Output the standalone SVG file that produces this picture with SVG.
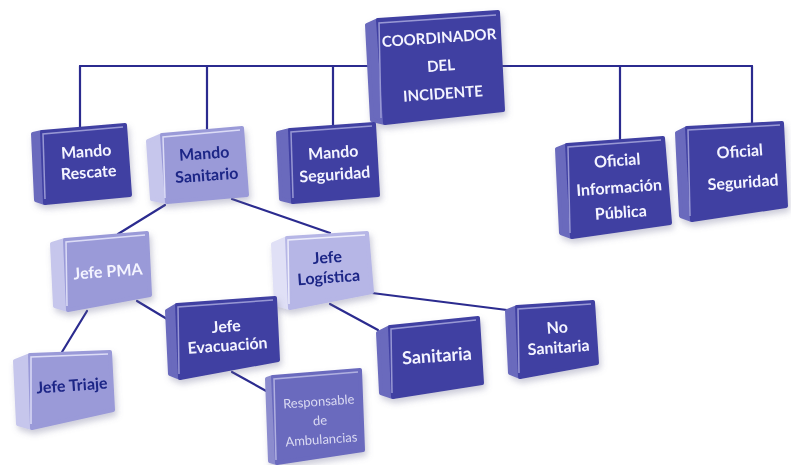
<svg xmlns="http://www.w3.org/2000/svg" width="791" height="465" viewBox="0 0 791 465">
  <defs>
    <filter id="shadow" x="-20%" y="-20%" width="140%" height="150%">
      <feDropShadow dx="2" dy="4" stdDeviation="3" flood-color="#6a6a90" flood-opacity="0.35"/>
    </filter>
  </defs>
  <style>
    .bg { fill: #ffffff; }
    .link { stroke: #2b2b8f; stroke-width: 2.2; fill: none; stroke-linecap: round; }
    .face { stroke-linejoin: round; stroke-width: 4; }
    .dark .front { fill: #4040a2; stroke: #4040a2; }
    .dark .side { fill: #6a6abd; stroke: #6a6abd; }
    .dark .edge { stroke: #9898d4; }
    .light .front { fill: #9a9ad8; stroke: #9a9ad8; }
    .light .side { fill: #c6c6ec; stroke: #c6c6ec; }
    .light .edge { stroke: #dcdcf6; }
    .pale .front { fill: #b6b6e6; stroke: #b6b6e6; }
    .pale .side { fill: #e0e0f6; stroke: #e0e0f6; }
    .pale .edge { stroke: #ececfa; }
    .mid .front { fill: #6a6abe; stroke: #6a6abe; }
    .mid .side { fill: #8c8cce; stroke: #8c8cce; }
    .mid .edge { stroke: #b0b0e0; }
    .edge { stroke-width: 1.5; fill: none; }
    text { font-family: Lato, "Open Sans", "Liberation Sans", sans-serif; text-anchor: middle; }
    .wt { fill: #f4f4ff; font-weight: bold; font-size: 16px; }
    .dt { fill: #1c2586; font-weight: bold; font-size: 16px; }
    .big { font-size: 18px; }
    .rt { fill: #dadaf2; font-size: 13px; }
    .ct { fill: #f4f4ff; font-weight: bold; font-size: 15px; }
  </style>
  <rect class="bg" x="0" y="0" width="791" height="465"/>

  <!-- connectors -->
  <g id="connectors">
    <line class="link" x1="80" y1="66" x2="752" y2="66"/>
    <line class="link" x1="80" y1="66" x2="80" y2="130"/>
    <line class="link" x1="207" y1="66" x2="207" y2="132"/>
    <line class="link" x1="333" y1="66" x2="333" y2="129"/>
    <line class="link" x1="620" y1="66" x2="620" y2="142"/>
    <line class="link" x1="752" y1="66" x2="752" y2="126"/>
    <line class="link" x1="165" y1="205" x2="118" y2="234"/>
    <line class="link" x1="232" y1="199" x2="330" y2="233"/>
    <line class="link" x1="87" y1="311" x2="62" y2="352"/>
    <line class="link" x1="137" y1="301" x2="167" y2="319"/>
    <line class="link" x1="330" y1="304" x2="378" y2="330"/>
    <line class="link" x1="372" y1="293" x2="507" y2="310"/>
    <line class="link" x1="232" y1="372" x2="268" y2="392"/>
  </g>

  <!-- COORDINADOR DEL INCIDENTE -->
  <g id="coordinador" class="dark" filter="url(#shadow)">
    <polygon class="face side" points="367,25 378,20 385,123 372,120"/>
    <polygon class="face front" points="378,20 498,12 503,110 385,123"/>
    <polyline class="edge" points="381,118 379,23 496,15"/>
    <g transform="rotate(-4 440 66)">
      <text class="ct" x="441" y="43">COORDINADOR</text>
      <text class="ct" x="441" y="71">DEL</text>
      <text class="ct" x="441" y="99">INCIDENTE</text>
    </g>
  </g>

  <g id="mando-rescate" class="dark" filter="url(#shadow)">
    <polygon class="face side" points="33,134 42,132 45,203 36,200"/>
    <polygon class="face front" points="42,132 125,125 130,195 45,203"/>
    <polyline class="edge" points="45,199 43,134 123,127"/>
    <g transform="rotate(-4 87 163)">
      <text class="wt" x="87" y="157">Mando</text>
      <text class="wt" x="88" y="178">Rescate</text>
    </g>
  </g>

  <g id="mando-sanitario" class="light" filter="url(#shadow)">
    <polygon class="face side" points="148,141 162,135 167,202 152,199"/>
    <polygon class="face front" points="162,135 242,128 247,195 167,202"/>
    <polyline class="edge" points="165,198 163,137 240,130"/>
    <g transform="rotate(-4 205 165)">
      <text class="dt" x="205" y="159">Mando</text>
      <text class="dt" x="206" y="181">Sanitario</text>
    </g>
  </g>

  <g id="mando-seguridad" class="dark" filter="url(#shadow)">
    <polygon class="face side" points="278,133 290,130 293,202 281,199"/>
    <polygon class="face front" points="290,130 374,124 378,195 293,202"/>
    <polyline class="edge" points="293,198 291,132 372,126"/>
    <g transform="rotate(-4 334 163)">
      <text class="wt" x="334" y="158">Mando</text>
      <text class="wt" x="334" y="180">Seguridad</text>
    </g>
  </g>

  <g id="oficial-info" class="dark" filter="url(#shadow)">
    <polygon class="face side" points="557,149 567,145 572,237 561,233"/>
    <polygon class="face front" points="567,145 663,138 670,223 572,237"/>
    <polyline class="edge" points="570,233 568,147 661,140"/>
    <g transform="rotate(-4 619 187)">
      <text class="wt" x="619" y="166">Oficial</text>
      <text class="wt" x="619" y="193">Información</text>
      <text class="wt" x="619" y="218">Pública</text>
    </g>
  </g>

  <g id="oficial-seguridad" class="dark" filter="url(#shadow)">
    <polygon class="face side" points="677,133 687,128 692,220 681,216"/>
    <polygon class="face front" points="687,128 782,123 786,206 692,220"/>
    <polyline class="edge" points="690,216 688,130 780,125"/>
    <g transform="rotate(-4 740 168)">
      <text class="wt" x="741" y="157">Oficial</text>
      <text class="wt" x="742" y="188">Seguridad</text>
    </g>
  </g>

  <g id="jefe-pma" class="light" filter="url(#shadow)">
    <polygon class="face side" points="52,244 65,240 68,310 55,306"/>
    <polygon class="face front" points="65,240 147,233 150,295 68,310"/>
    <polyline class="edge" points="67,306 66,242 145,235"/>
    <g transform="rotate(-4 108 272)">
      <text class="wt" x="108" y="277">Jefe PMA</text>
    </g>
  </g>

  <g id="jefe-logistica" class="pale" filter="url(#shadow)">
    <polygon class="face side" points="273,244 287,238 290,308 276,304"/>
    <polygon class="face front" points="287,238 367,233 372,292 290,308"/>
    <polyline class="edge" points="289,304 288,240 365,235"/>
    <g transform="rotate(-4 328 268)">
      <text class="dt" x="328" y="263">Jefe</text>
      <text class="dt" x="328" y="283">Logística</text>
    </g>
  </g>

  <g id="jefe-evacuacion" class="dark" filter="url(#shadow)">
    <polygon class="face side" points="167,311 177,305 180,378 170,374"/>
    <polygon class="face front" points="177,305 275,298 278,360 180,378"/>
    <polyline class="edge" points="179,374 178,307 273,300"/>
    <g transform="rotate(-4 227 338)">
      <text class="wt" x="227" y="332">Jefe</text>
      <text class="wt" x="227" y="351">Evacuación</text>
    </g>
  </g>

  <g id="sanitaria" class="dark" filter="url(#shadow)">
    <polygon class="face side" points="378,333 390,327 393,397 381,393"/>
    <polygon class="face front" points="390,327 478,318 482,383 393,397"/>
    <polyline class="edge" points="392,393 391,329 476,320"/>
    <g transform="rotate(-4 437 357)">
      <text class="wt big" x="437" y="362">Sanitaria</text>
    </g>
  </g>

  <g id="no-sanitaria" class="dark" filter="url(#shadow)">
    <polygon class="face side" points="507,311 517,307 520,377 510,373"/>
    <polygon class="face front" points="517,307 593,302 597,363 520,377"/>
    <polyline class="edge" points="519,373 518,309 591,304"/>
    <g transform="rotate(-4 558 339)">
      <text class="wt" x="558" y="333">No</text>
      <text class="wt" x="558" y="353">Sanitaria</text>
    </g>
  </g>

  <g id="jefe-triaje" class="light" filter="url(#shadow)">
    <polygon class="face side" points="15,361 30,355 32,428 18,424"/>
    <polygon class="face front" points="30,355 110,352 113,410 32,428"/>
    <polyline class="edge" points="31,424 31,357 108,354"/>
    <g transform="rotate(-4 72 387)">
      <text class="dt" x="72" y="391">Jefe Triaje</text>
    </g>
  </g>

  <g id="responsable-ambulancias" class="mid" filter="url(#shadow)">
    <polygon class="face side" points="267,379 273,377 277,463 270,461"/>
    <polygon class="face front" points="273,377 360,370 363,450 277,463"/>
    <polyline class="edge" points="276,460 274,379 358,372"/>
    <g transform="rotate(-4 320 420)">
      <text class="rt" x="320" y="406">Responsable</text>
      <text class="rt" x="320" y="425">de</text>
      <text class="rt" x="320" y="444">Ambulancias</text>
    </g>
  </g>
</svg>
